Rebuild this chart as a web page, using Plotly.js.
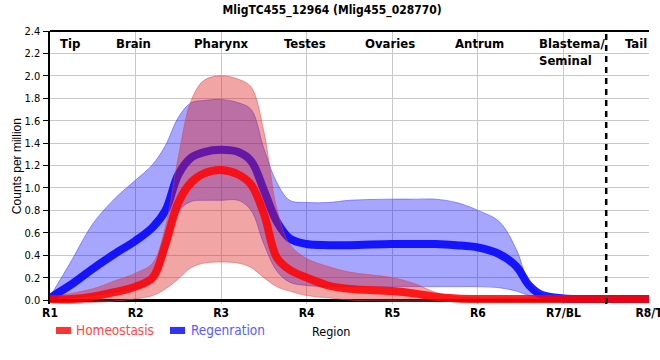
<!DOCTYPE html>
<html><head><meta charset="utf-8">
<script src="https://cdn.plot.ly/plotly-3.0.1.min.js"></script>
<style>html,body{margin:0;padding:0;background:#fff}#chart{width:660px;height:360px}</style>
</head><body><div id="chart"></div>
<script>
// positions along the body (R1..R8)
const xPos = [1,1.25,1.5,1.75,2,2.2,2.35,2.5,2.65,2.8,3,3.2,3.35,3.5,3.65,3.8,4,4.25,4.5,5,5.25,5.5,5.75,6,6.25,6.45,6.6,6.75,7,7.5,8];
const tickPos = [1,2,3,4,5,6,7,8];
const tickLabels = ['R1','R2','R3','R4','R5','R6','R7/BL','R8/T'];

// Homeostasis
const homMean  = [0.01,0.01,0.03,0.07,0.12,0.2,0.5,0.87,1.05,1.13,1.16,1.12,1.03,0.77,0.38,0.27,0.2,0.13,0.1,0.08,0.06,0.03,0.015,0.01,0.01,0.01,0.01,0.01,0.01,0.01,0.01];
const homUpper = [0.02,0.06,0.1,0.17,0.24,0.33,0.66,1.28,1.78,1.96,2.0,1.97,1.9,1.5,0.82,0.5,0.37,0.3,0.25,0.2,0.15,0.07,0.03,0.02,0.02,0.02,0.02,0.02,0.02,0.02,0.02];
const homLower = [-0.02,-0.03,-0.02,-0.01,0.01,0.04,0.1,0.19,0.29,0.33,0.34,0.33,0.29,0.2,0.12,0.08,0.04,0.02,0.0,-0.01,-0.01,-0.01,-0.01,-0.01,-0.01,-0.01,-0.01,-0.01,-0.01,-0.01,-0.01];

// Regeneration
const regMean  = [0.02,0.14,0.28,0.41,0.53,0.65,0.8,1.12,1.27,1.32,1.34,1.32,1.24,0.98,0.7,0.55,0.5,0.49,0.49,0.5,0.5,0.5,0.49,0.47,0.41,0.3,0.13,0.045,0.015,0.01,0.01];
const regUpper = [0.03,0.35,0.68,0.9,1.07,1.21,1.38,1.63,1.76,1.78,1.79,1.76,1.7,1.35,1.05,0.89,0.87,0.87,0.89,0.9,0.9,0.9,0.87,0.8,0.7,0.45,0.15,0.05,0.015,0.01,0.01];
const regLower = [0.0,0.02,0.04,0.07,0.1,0.17,0.4,0.79,0.88,0.89,0.89,0.89,0.8,0.5,0.26,0.16,0.13,0.12,0.12,0.12,0.12,0.12,0.12,0.12,0.11,0.08,0.04,0.025,0.01,0.01,0.01];

// region names along the top
const regionNames = ['Tip','Brain','Pharynx','Testes','Ovaries','Antrum','Blastema/<br>Seminal','Tail'];
const regionX     = [1.23,1.97,3.0,3.98,4.97,6.02,6.69,7.85];

const NARROW = '"DejaVu Sans Condensed", "Liberation Sans Narrow", sans-serif';
const SANS = '"Liberation Sans", Arial, sans-serif';

function band(up, lo, fill, edge){
  return [
    {x:xPos, y:up, mode:'lines', line:{shape:'spline', width:1, color:edge}, hoverinfo:'skip', showlegend:false},
    {x:xPos, y:lo, mode:'lines', fill:'tonexty', fillcolor:fill, line:{shape:'spline', width:1, color:edge}, hoverinfo:'skip', showlegend:false}
  ];
}

const traces = [].concat(
  band(regUpper, regLower, 'rgba(0,0,255,0.35)', 'rgba(70,70,255,0.55)'),
  [{x:xPos, y:regMean, mode:'lines', name:'Regenration', line:{shape:'spline', width:8, color:'rgba(0,0,255,0.88)'}, showlegend:false}],
  band(homUpper, homLower, 'rgba(220,30,30,0.4)', 'rgba(220,70,70,0.5)'),
  [{x:xPos, y:homMean, mode:'lines', name:'Homeostasis', line:{shape:'spline', width:8, color:'rgba(255,0,0,0.86)'}, showlegend:false}]
);

const annotations = regionNames.map((t,i)=>({
  x: regionX[i], xref:'x', y:0.99, yref:'paper', yanchor:'top',
  xanchor: t.indexOf('<br>')>=0 ? 'left' : 'center', align:'left',
  text:t, showarrow:false, font:{family:NARROW, size:13, color:'#000', weight:'bold'}
}));
// custom legend + axis titles
annotations.push(
  {x:0.040, xref:'paper', y:-0.095, yref:'paper', xanchor:'left', yanchor:'middle', showarrow:false,
   text:'Homeostasis', font:{family:NARROW, size:13.5, color:'rgb(255,70,70)'}},
  {x:0.232, xref:'paper', y:-0.095, yref:'paper', xanchor:'left', yanchor:'middle', showarrow:false,
   text:'Regenration', font:{family:NARROW, size:13.5, color:'rgb(90,90,255)'}},
  {x:0.469, xref:'paper', y:-0.099, yref:'paper', xanchor:'center', yanchor:'middle', showarrow:false,
   text:'Region', font:{family:NARROW, size:12.5, color:'#000'}},
  {x:-0.0551, xref:'paper', y:0.505, yref:'paper', xanchor:'center', yanchor:'middle', textangle:-90, showarrow:false,
   text:'Counts per million', font:{family:SANS, size:12, color:'#000'}}
);

const layout = {
  width:660, height:360,
  margin:{l:50, r:11, t:31, b:56},
  paper_bgcolor:'#fff', plot_bgcolor:'#fff',
  showlegend:false,
  title:{text:'MligTC455_12964 (Mlig455_028770)', x:0.471, xref:'paper', xanchor:'center', y:0.972, yref:'container', yanchor:'middle',
         font:{family:NARROW, size:12, color:'#000', weight:'bold'}},
  xaxis:{range:[1,8], tickvals:tickPos, ticktext:tickLabels, showgrid:true, gridcolor:'#c8c8c8', gridwidth:1,
         zeroline:false, showline:false, ticks:'', ticklabeloverflow:'allow',
         tickfont:{family:NARROW, size:12, color:'#000', weight:'bold'}},
  yaxis:{range:[-0.035,2.4], tick0:0, dtick:0.2, tickformat:'.1f', showgrid:true, gridcolor:'#c8c8c8', gridwidth:1,
         ticks:'outside', ticklen:5, tickcolor:'#000', tickwidth:1,
         showline:true, linecolor:'#000', linewidth:2.5,
         zeroline:true, zerolinecolor:'#000', zerolinewidth:3,
         tickfont:{family:NARROW, size:11, color:'#000'}},
  shapes:[
    {type:'line', xref:'x', x0:7.5, x1:7.5, yref:'paper', y0:0, y1:1, line:{color:'#000', width:2.5, dash:'6px,5px'}},
    {type:'line', xref:'paper', x0:0, x1:1, yref:'paper', y0:1, y1:1, line:{color:'#000', width:2}},
    {type:'rect', xref:'paper', x0:0.010, x1:0.035, yref:'paper', y0:-0.110, y1:-0.084, fillcolor:'rgb(255,50,50)', line:{width:0}},
    {type:'rect', xref:'paper', x0:0.2003, x1:0.2254, yref:'paper', y0:-0.110, y1:-0.084, fillcolor:'rgb(50,50,255)', line:{width:0}}
  ],
  annotations:annotations
};

Plotly.newPlot('chart', traces, layout, {staticPlot:true, displayModeBar:false});
</script></body></html>
